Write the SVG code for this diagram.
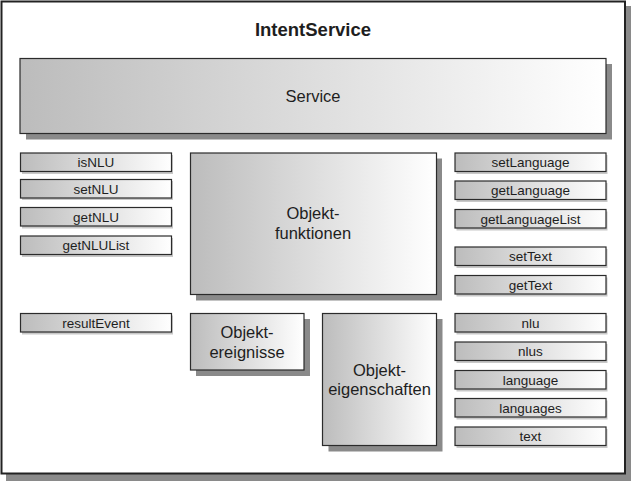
<svg xmlns="http://www.w3.org/2000/svg" width="632" height="481" viewBox="0 0 632 481">
<defs>
<linearGradient id="g" x1="0" y1="0" x2="1" y2="0">
<stop offset="0" stop-color="#bcbcbc"/>
<stop offset="1" stop-color="#ffffff"/>
</linearGradient>
<style>
.sh{fill:#8a8a8a}
.shs{fill:#c8c8c8}
.bx{fill:url(#g);stroke:#2b2b2b;stroke-width:1.2}
.t{font-family:"Liberation Sans",Arial,sans-serif;fill:#1e1e1e;text-anchor:middle}
.s{font-size:13.5px}
.m{font-size:16.5px}
</style>
</defs>
<g id="frame">
<rect x="6" y="6" width="625" height="475" class="sh"/>
<rect x="1.5" y="1.5" width="623.5" height="472" fill="#ffffff" stroke="#222" stroke-width="2"/>
<text x="313" y="36" class="t" font-size="18.5" font-weight="bold">IntentService</text>
</g>
<g id="service">
<rect x="26" y="64" width="586" height="75.5" class="sh"/>
<rect x="20" y="58.5" width="586" height="75" class="bx"/>
<text x="313" y="102" class="t m">Service</text>
</g>
<g id="objektfunktionen">
<rect x="196" y="158.5" width="246" height="142" class="sh"/>
<rect x="190.5" y="153" width="246" height="141.5" class="bx"/>
<text class="t m"><tspan x="313" y="219">Objekt-</tspan><tspan x="313" y="239">funktionen</tspan></text>
</g>
<g id="objektereignisse">
<rect x="196" y="319" width="114" height="57" class="sh"/>
<rect x="190.5" y="313.5" width="113.5" height="56.5" class="bx"/>
<text class="t m"><tspan x="247" y="337.5">Objekt-</tspan><tspan x="247" y="358">ereignisse</tspan></text>
</g>
<g id="objekteigenschaften">
<rect x="328.5" y="319" width="114" height="132.5" class="sh"/>
<rect x="322.5" y="313.5" width="114" height="132" class="bx"/>
<text class="t m"><tspan x="379.5" y="376">Objekt-</tspan><tspan x="379.5" y="395">eigenschaften</tspan></text>
</g>
<g id="isNLU"><rect x="22" y="155" width="151" height="19" class="shs"/><rect x="20.5" y="153" width="151" height="18.5" class="bx"/><text x="96" y="167" class="t s">isNLU</text></g>
<g id="setNLU"><rect x="22" y="181" width="151" height="19" class="shs"/><rect x="20.5" y="179.5" width="151" height="18.5" class="bx"/><text x="96" y="193.5" class="t s">setNLU</text></g>
<g id="getNLU"><rect x="22" y="209.5" width="151" height="19" class="shs"/><rect x="20.5" y="207.5" width="151" height="18.5" class="bx"/><text x="96" y="221.5" class="t s">getNLU</text></g>
<g id="getNLUList"><rect x="22" y="238" width="151" height="19" class="shs"/><rect x="20.5" y="236" width="151" height="18.5" class="bx"/><text x="96" y="250" class="t s">getNLUList</text></g>
<g id="resultEvent"><rect x="22" y="315.5" width="151" height="19" class="shs"/><rect x="20.5" y="313.5" width="151" height="18.5" class="bx"/><text x="96" y="327.5" class="t s">resultEvent</text></g>
<g id="setLanguage"><rect x="456.5" y="155" width="151" height="19" class="shs"/><rect x="455" y="153" width="151" height="18.5" class="bx"/><text x="530.5" y="167" class="t s">setLanguage</text></g>
<g id="getLanguage"><rect x="456.5" y="183" width="151" height="19" class="shs"/><rect x="455" y="181" width="151" height="18.5" class="bx"/><text x="530.5" y="195" class="t s">getLanguage</text></g>
<g id="getLanguageList"><rect x="456.5" y="211.5" width="151" height="19" class="shs"/><rect x="455" y="209.5" width="151" height="18.5" class="bx"/><text x="530.5" y="223.5" class="t s">getLanguageList</text></g>
<g id="setText"><rect x="456.5" y="249" width="151" height="19" class="shs"/><rect x="455" y="247" width="151" height="18.5" class="bx"/><text x="530.5" y="261" class="t s">setText</text></g>
<g id="getText"><rect x="456.5" y="277.5" width="151" height="19" class="shs"/><rect x="455" y="275.5" width="151" height="18.5" class="bx"/><text x="530.5" y="289.5" class="t s">getText</text></g>
<g id="nlu"><rect x="456.5" y="315.5" width="151" height="19" class="shs"/><rect x="455" y="313.5" width="151" height="18.5" class="bx"/><text x="530.5" y="327.5" class="t s">nlu</text></g>
<g id="nlus"><rect x="456.5" y="344" width="151" height="19" class="shs"/><rect x="455" y="342" width="151" height="18.5" class="bx"/><text x="530.5" y="356" class="t s">nlus</text></g>
<g id="language"><rect x="456.5" y="372.5" width="151" height="19" class="shs"/><rect x="455" y="370.5" width="151" height="18.5" class="bx"/><text x="530.5" y="384.5" class="t s">language</text></g>
<g id="languages"><rect x="456.5" y="400.5" width="151" height="19" class="shs"/><rect x="455" y="398.5" width="151" height="18.5" class="bx"/><text x="530.5" y="412.5" class="t s">languages</text></g>
<g id="text"><rect x="456.5" y="429" width="151" height="19" class="shs"/><rect x="455" y="427" width="151" height="18.5" class="bx"/><text x="530.5" y="441" class="t s">text</text></g>
<g id="connectors"/>
</svg>
